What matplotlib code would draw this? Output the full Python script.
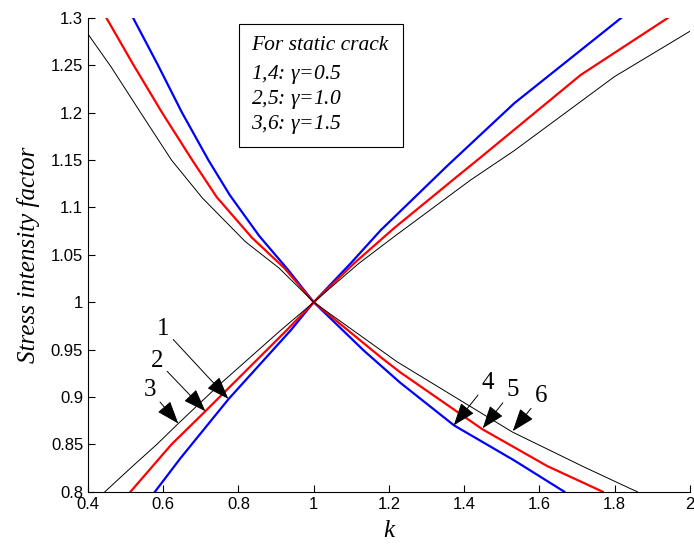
import matplotlib
matplotlib.use('Agg')
import matplotlib.pyplot as plt
from matplotlib.patches import Rectangle

# curves (k, stress intensity factor)
k_1 = [0.578, 0.645, 0.774, 0.938, 1.0, 1.098, 1.178, 1.355, 1.533, 1.817]
sif_1 = [0.800, 0.835, 0.898, 0.970, 1.0, 1.041, 1.076, 1.144, 1.210, 1.300]
k_2 = [0.513, 0.622, 0.712, 0.927, 1.0, 1.107, 1.213, 1.382, 1.444, 1.710, 1.941]
sif_2 = [0.800, 0.850, 0.885, 0.970, 1.0, 1.041, 1.078, 1.133, 1.153, 1.240, 1.300]
k_3 = [0.445, 0.516, 0.583, 0.640, 0.752, 0.911, 1.0, 1.120, 1.213, 1.417, 1.533, 1.799, 2.0]
sif_3 = [0.800, 0.826, 0.850, 0.872, 0.914, 0.970, 1.0, 1.041, 1.069, 1.129, 1.160, 1.238, 1.286]

k_4 = [0.520, 0.585, 0.650, 0.720, 0.777, 0.855, 0.930, 1.0, 1.133, 1.230, 1.373, 1.533, 1.666]
sif_4 = [1.300, 1.251, 1.200, 1.150, 1.113, 1.070, 1.035, 1.0, 0.949, 0.915, 0.870, 0.833, 0.800]
k_5 = [0.449, 0.520, 0.597, 0.677, 0.742, 0.836, 0.922, 1.0, 1.178, 1.230, 1.448, 1.621, 1.768]
sif_5 = [1.300, 1.251, 1.200, 1.150, 1.111, 1.068, 1.036, 1.0, 0.942, 0.926, 0.866, 0.827, 0.800]
k_6 = [0.400, 0.462, 0.540, 0.622, 0.704, 0.818, 0.908, 1.0, 1.222, 1.528, 1.719, 1.843, 1.860]
sif_6 = [1.283, 1.248, 1.200, 1.150, 1.110, 1.064, 1.036, 1.0, 0.937, 0.863, 0.826, 0.803, 0.800]

labels = ['1', '2', '3', '4', '5', '6']
label_xy = [(0.600, 0.972), (0.584, 0.938), (0.565, 0.907),
            (1.463, 0.915), (1.529, 0.907), (1.604, 0.901)]
arrow_tips = [(0.773, 0.898), (0.712, 0.885), (0.640, 0.872),
              (1.372, 0.870), (1.449, 0.867), (1.529, 0.864)]

xticks = [0.4, 0.6, 0.8, 1.0, 1.2, 1.4, 1.6, 1.8, 2.0]
yticks = [0.8, 0.85, 0.9, 0.95, 1.0, 1.05, 1.1, 1.15, 1.2, 1.25, 1.3]

legend_lines = ['For static crack',
                '1,4: $\\gamma$=0.5',
                '2,5: $\\gamma$=1.0',
                '3,6: $\\gamma$=1.5']

plt.rcParams['mathtext.fontset'] = 'custom'
plt.rcParams['mathtext.it'] = 'Liberation Serif:italic'
plt.rcParams['mathtext.rm'] = 'Liberation Serif:italic'
plt.rcParams['mathtext.default'] = 'it'

fig = plt.figure(figsize=(6.94, 5.53), dpi=100)
ax = fig.add_axes([0.1268, 0.1108, 0.8674, 0.8567])

ax.plot(k_1, sif_1, color='#0000ff', linewidth=1.6)
ax.plot(k_2, sif_2, color='#ff0000', linewidth=1.6)
ax.plot(k_3, sif_3, color='black', linewidth=0.7)
ax.plot(k_4, sif_4, color='#0000ff', linewidth=1.6)
ax.plot(k_5, sif_5, color='#ff0000', linewidth=1.6)
ax.plot(k_6, sif_6, color='black', linewidth=0.7)

for lab, xy, tip in zip(labels, label_xy, arrow_tips):
    ax.annotate(lab, xy=tip, xytext=xy, ha='center', va='center',
                fontfamily='Liberation Serif', fontsize=18,
                arrowprops=dict(arrowstyle='-|>,head_length=1.1,head_width=0.4',
                                mutation_scale=13, color='black', lw=0.7,
                                shrinkA=1, shrinkB=0))

ax.set_xlim(0.4, 2.0)
ax.set_ylim(0.8, 1.3)
ax.set_xticks(xticks)
ax.set_yticks(yticks)
ax.set_xticklabels(['%g' % t for t in xticks], fontfamily='Liberation Sans', fontsize=12)
ax.set_yticklabels(['%g' % t for t in yticks], fontfamily='Liberation Sans', fontsize=12)
ax.tick_params(direction='in', length=5, width=0.8)
ax.spines['top'].set_visible(False)
ax.spines['right'].set_visible(False)

ax.set_xlabel('k', fontfamily='Liberation Serif', style='italic', fontsize=18, labelpad=6)
ax.set_ylabel('Stress intensity factor', fontfamily='Liberation Serif',
              style='italic', fontsize=18, labelpad=8)

# legend box drawn by hand, like the reference
ax.add_patch(Rectangle((0.2508, 0.7277), 0.2724, 0.2597, transform=ax.transAxes,
                       facecolor='white', edgecolor='black', linewidth=0.8, zorder=5))
for line, ypos in zip(legend_lines, [0.941, 0.881, 0.827, 0.776]):
    ax.text(0.271, ypos, line, transform=ax.transAxes, va='center', ha='left',
            fontfamily='Liberation Serif', style='italic', fontsize=15.5, zorder=6)

fig.savefig('out.png', dpi=100)
